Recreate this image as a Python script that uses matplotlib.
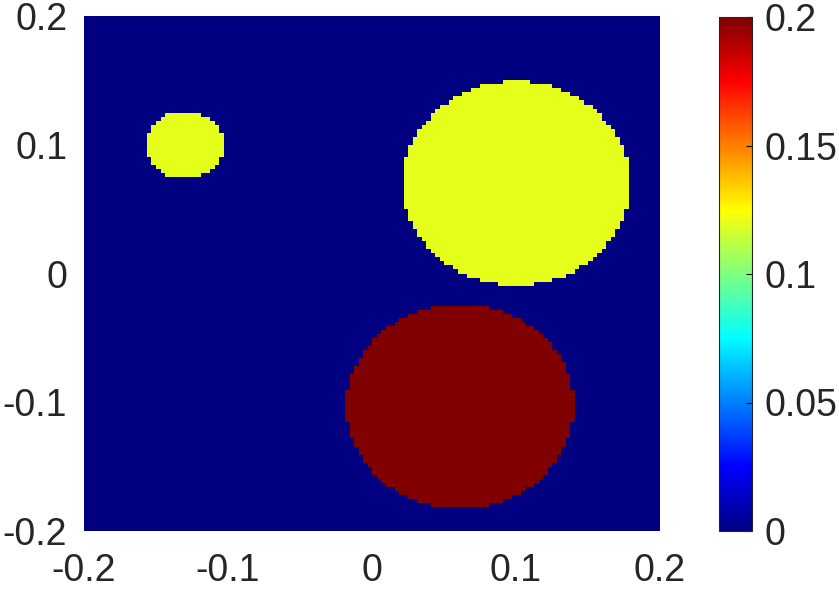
import numpy as np
import matplotlib
matplotlib.use("Agg")
import matplotlib.pyplot as plt
from matplotlib.colors import ListedColormap

# ---- data ----
disk_cx = [-0.13, 0.10, 0.061]
disk_cy = [0.10, 0.07, -0.103]
disk_r = [0.0265, 0.079, 0.079]
disk_val = [0.12, 0.12, 0.20]
n_cells = 128
x_lim = [-0.2, 0.2]
y_lim = [-0.2, 0.2]
c_lim = [0.0, 0.2]
x_ticks = [-0.2, -0.1, 0, 0.1, 0.2]
x_ticklabels = ["-0.2", "-0.1", "0", "0.1", "0.2"]
y_ticks = [-0.2, -0.1, 0, 0.1, 0.2]
y_ticklabels = ["-0.2", "-0.1", "0", "0.1", "0.2"]
c_ticks = [0, 0.05, 0.1, 0.15, 0.2]
c_ticklabels = ["0", "0.05", "0.1", "0.15", "0.2"]

# MATLAB-style jet colormap
t = np.linspace(0, 1, 256)
r = np.clip(1.5 - np.abs(4 * t - 3), 0, 1)
g = np.clip(1.5 - np.abs(4 * t - 2), 0, 1)
b = np.clip(1.5 - np.abs(4 * t - 1), 0, 1)
jet = ListedColormap(np.column_stack([r, g, b]))

xe = np.linspace(x_lim[0], x_lim[1], n_cells + 1)
ye = np.linspace(y_lim[0], y_lim[1], n_cells + 1)
xc = 0.5 * (xe[:-1] + xe[1:])
yc = 0.5 * (ye[:-1] + ye[1:])
X, Y = np.meshgrid(xc, yc)
Z = np.zeros_like(X)
for cx, cy, rr, v in zip(disk_cx, disk_cy, disk_r, disk_val):
    Z[(X - cx) ** 2 + (Y - cy) ** 2 <= rr ** 2] = v

plt.rcParams['font.family'] = ['Liberation Sans', 'DejaVu Sans']
txt_color = (0.15, 0.15, 0.15)
fs = 27

fig = plt.figure(figsize=(8.39, 5.93), dpi=100)
ax = fig.add_axes([84 / 839, 62 / 593, 576 / 839, 515 / 593])
mesh = ax.pcolormesh(xe, ye, Z, cmap=jet, vmin=c_lim[0], vmax=c_lim[1],
                     shading='flat', rasterized=True)
ax.set_xlim(x_lim)
ax.set_ylim(y_lim)
ax.set_xticks(x_ticks)
ax.set_xticklabels(x_ticklabels)
ax.set_yticks(y_ticks)
ax.set_yticklabels(y_ticklabels)
ax.tick_params(axis='x', length=0, pad=16, labelsize=fs, labelcolor=txt_color)
ax.tick_params(axis='y', length=0, pad=12, labelsize=fs, labelcolor=txt_color)
for s in ax.spines.values():
    s.set_visible(False)

cax = fig.add_axes([719 / 839, 62 / 593, 33 / 839, 514 / 593])
cb = fig.colorbar(mesh, cax=cax)
cb.set_ticks(c_ticks)
cb.set_ticklabels(c_ticklabels)
cax.tick_params(direction='in', length=4, width=0.8, color='black',
                pad=9, labelsize=fs, labelcolor=txt_color)
cb.outline.set_linewidth(0.8)
cb.outline.set_edgecolor((0.15, 0.15, 0.15))

fig.savefig("out.png", dpi=100)
